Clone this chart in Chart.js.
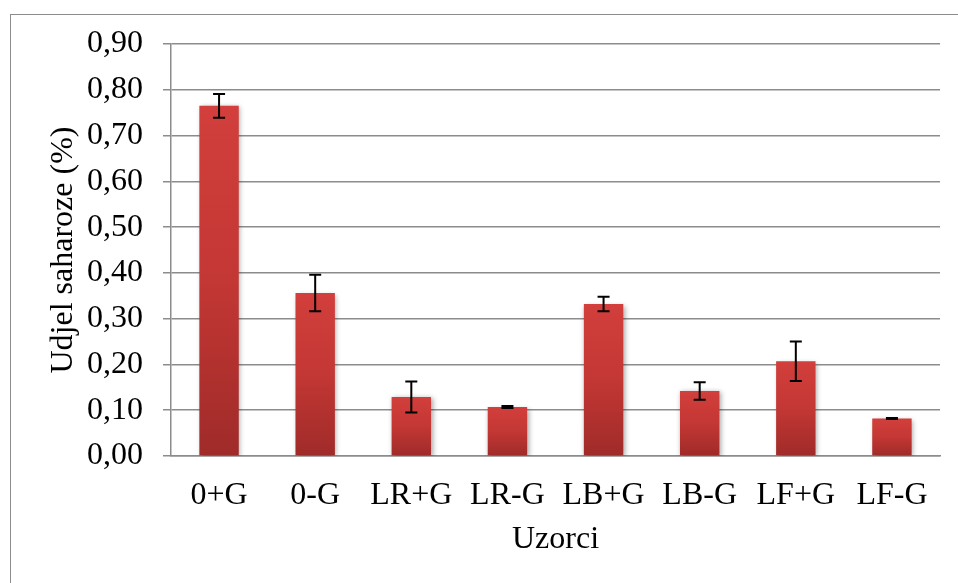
<!DOCTYPE html>
<html>
<head>
<meta charset="utf-8">
<script src="https://cdn.jsdelivr.net/npm/chart.js@4.4.1/dist/chart.umd.min.js"></script>
<style>
  html, body { margin: 0; padding: 0; background: #fff; }
  #wrap { position: relative; width: 958px; height: 583px; overflow: hidden; }
  #frame { position: absolute; left: 10px; top: 14px; width: 1000px; height: 600px; border: 1.5px solid #8c8c8c; box-sizing: border-box; }
  canvas { position: absolute; left: 0; top: 0; }
</style>
</head>
<body>
<div id="wrap">
  <div id="frame"></div>
  <canvas id="c" width="958" height="583"></canvas>
</div>
<script>
const categories = ['0+G', '0-G', 'LR+G', 'LR-G', 'LB+G', 'LB-G', 'LF+G', 'LF-G'];
const sucroseShare = [0.765, 0.356, 0.129, 0.107, 0.332, 0.142, 0.207, 0.082];
const errorValues = [0.026, 0.040, 0.034, 0.002, 0.016, 0.019, 0.043, 0.001];
const yTickValues = [0, 0.1, 0.2, 0.3, 0.4, 0.5, 0.6, 0.7, 0.8, 0.9];
const yAxisTitle = 'Udjel saharoze (%)';
const xAxisTitle = 'Uzorci';

const FONT = "'Liberation Serif', 'Times New Roman', serif";

const errorBarPlugin = {
  id: 'errorBars',
  afterDatasetsDraw(chart) {
    const ctx = chart.ctx;
    const meta = chart.getDatasetMeta(0);
    const y = chart.scales.y;
    ctx.save();
    ctx.strokeStyle = '#000';
    ctx.lineWidth = 2;
    meta.data.forEach((bar, i) => {
      const v = sucroseShare[i], e = errorValues[i];
      const yt = y.getPixelForValue(v + e);
      const yb = y.getPixelForValue(v - e);
      const x = bar.x;
      const cap = 6;
      ctx.beginPath();
      ctx.moveTo(x, yt); ctx.lineTo(x, yb);
      ctx.moveTo(x - cap, yt); ctx.lineTo(x + cap, yt);
      ctx.moveTo(x - cap, yb); ctx.lineTo(x + cap, yb);
      ctx.stroke();
    });
    ctx.restore();
  }
};

const shadowPlugin = {
  id: 'barShadow',
  beforeDatasetDraw(chart) {
    const ctx = chart.ctx;
    ctx.save();
    ctx.shadowColor = 'rgba(0,0,0,0.35)';
    ctx.shadowBlur = 5;
    ctx.shadowOffsetX = 1.5;
    ctx.shadowOffsetY = 1.5;
  },
  afterDatasetDraw(chart) {
    chart.ctx.restore();
  }
};

function barGradient(context) {
  const chart = context.chart;
  const area = chart.chartArea;
  if (!area) return '#c43734';
  const ys = chart.scales.y;
  const top = ys.getPixelForValue(sucroseShare[context.dataIndex] || 0);
  const bottom = ys.getPixelForValue(0);
  const g = chart.ctx.createLinearGradient(0, top, 0, bottom);
  g.addColorStop(0, '#d23f3c');
  g.addColorStop(0.5, '#c33734');
  g.addColorStop(1, '#9f2b29');
  return g;
}

new Chart(document.getElementById('c'), {
  type: 'bar',
  data: {
    labels: categories,
    datasets: [{
      data: sucroseShare,
      backgroundColor: barGradient,
      borderWidth: 0,
      categoryPercentage: 1,
      barPercentage: 0.41
    }]
  },
  options: {
    responsive: false,
    animation: false,
    devicePixelRatio: 1,
    layout: { padding: { left: 10, top: 44, right: 18, bottom: 0 } },
    plugins: { legend: { display: false }, tooltip: { enabled: false } },
    scales: {
      x: {
        afterFit(s) { s.height = 127; },
        grid: { display: false, drawTicks: false },
        border: { display: true, color: '#8c8c8c', width: 1.5 },
        ticks: { color: '#000', font: { family: FONT, size: 32 }, padding: 20, maxRotation: 0 },
        title: { display: true, text: xAxisTitle, color: '#000', font: { family: FONT, size: 32 }, padding: { top: 0, bottom: 24 } }
      },
      y: {
        min: 0, max: 0.9,
        afterFit(s) { s.width = 161; },
        afterBuildTicks(s) { s.ticks = yTickValues.map(v => ({ value: v })); },
        grid: { color: '#8c8c8c', lineWidth: 1.5, tickLength: 8, drawTicks: true },
        border: { display: true, color: '#8c8c8c', width: 1.5 },
        ticks: {
          color: '#000', font: { family: FONT, size: 32 }, padding: 20,
          callback: v => v.toFixed(2).replace('.', ',')
        },
        title: { display: true, text: yAxisTitle, color: '#000', font: { family: FONT, size: 32 }, padding: { top: 34, bottom: 0 } }
      }
    }
  },
  plugins: [shadowPlugin, errorBarPlugin]
});
</script>
</body>
</html>
